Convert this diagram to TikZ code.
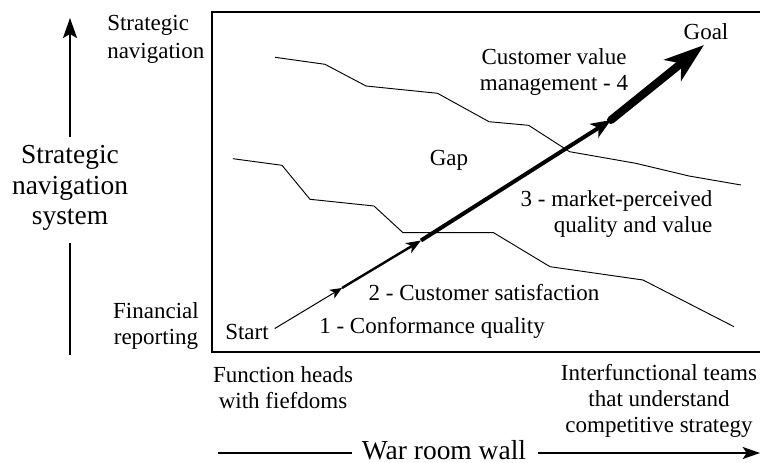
\documentclass[tikz,border=0pt]{standalone}
\usepackage{fontspec}
\setmainfont{Liberation Serif}
\newfontfamily\tnr{Liberation Serif}
\usetikzlibrary{arrows.meta}
\begin{document}
\begin{tikzpicture}[x=0.75pt,y=-0.75pt,
  txt/.style={font=\tnr\fontsize{17.25}{19.5}\selectfont, align=center, inner sep=0pt},
  big/.style={font=\tnr\fontsize{20.6}{23}\selectfont, align=center, inner sep=0pt},
  border/.style={line width=0.8pt},
  gapline/.style={line width=0.7pt},
  axis/.style={line width=1.5pt},
  seg1/.style={line width=0.75pt, -{Stealth[length=9pt,width=7.5pt,inset=2.5pt]}},
  seg2/.style={line width=1.8pt, -{Stealth[length=11pt,width=8.5pt,inset=3pt]}},
  seg3/.style={line width=3pt, -{Stealth[length=15pt,width=12pt,inset=4pt]}},
  seg4/.style={line width=6pt, line cap=round, -{Stealth[length=30pt,width=20pt,inset=8pt]}}
]
\useasboundingbox (0,0) rectangle (760,463);

% frame (right side lies beyond the picture)
\draw[border] (760,12) -- (212,12) -- (212,352) -- (760,352);

% gap boundaries
\draw[gapline] (275,57.3) -- (325,64.3) -- (366,86) -- (437.5,93.3) -- (489,121.7)
  -- (528.6,125.3) -- (569.6,151.7) -- (635.7,163.3) -- (689,176) -- (741,185);
\draw[gapline] (232.9,158.7) -- (282,165.3) -- (310,199.3) -- (374,206) -- (403,232.7)
  -- (493.6,232.7) -- (550,266.7) -- (643,280) -- (734,326.7);

% texts
\node[txt, anchor=west, align=left, font=\tnr\fontsize{17.25}{21}\selectfont] (snav) at (107,39) {Strategic\\navigation};
\node[txt] (fin) at (156,326.5) {Financial\\reporting};
\node[big] (sns) at (70,188) {Strategic\\navigation\\system};
\node[txt] (start) at (247,332) {Start};
\node[txt] (conf) at (432,328) {1 - Conformance quality};
\node[txt] (csat) at (484,293) {2 - Customer satisfaction};
\node[txt] (gap) at (449,160) {Gap};
\node[txt, anchor=east, align=right] (mpq) at (712.5,214.5) {3 - market-perceived\\quality and value};
\node[txt] (cvm) at (554,72) {Customer value\\management - 4};
\node[txt] (goal) at (706,32) {Goal};
\node[txt] (fh) at (283,387.5) {Function heads\\with fiefdoms};
\node[txt] (ift) at (659,401) {Interfunctional teams\\that understand\\competitive strategy};
\node[big, anchor=base] (war) at (444,459) {War room wall};

% main path Start -> Goal
\coordinate (t1) at (342,288);
\coordinate (t2) at (421,240.5);
\coordinate (t3) at (611,120);
\coordinate (gtip) at (704,45);
\draw[seg1, shorten <=5pt] (start.east) -- (t1);
\draw[seg2] (t1) -- (t2);
\draw[seg3] (t2) -- (t3);
\draw[seg4] (t3) -- (gtip);

% vertical axis
\coordinate (vtop) at (70,18);
\coordinate (vup) at (70,137);
\coordinate (vlow) at (70,243);
\coordinate (vbot) at (70,355);
\draw[axis, -{Stealth[length=15pt,width=10.5pt,inset=3pt]}] (vup) -- (vtop);
\draw[axis] (vbot) -- (vlow);

% horizontal axis
\coordinate (hl1) at (218,453);
\coordinate (hl2) at (352,453);
\coordinate (hr1) at (538,453);
\coordinate (hr2) at (760,453);
\draw[axis] (hl1) -- (hl2);
\draw[axis, -{Stealth[length=13pt,width=9pt,inset=3pt]}] (hr1) -- (hr2);
\end{tikzpicture}
\end{document}
